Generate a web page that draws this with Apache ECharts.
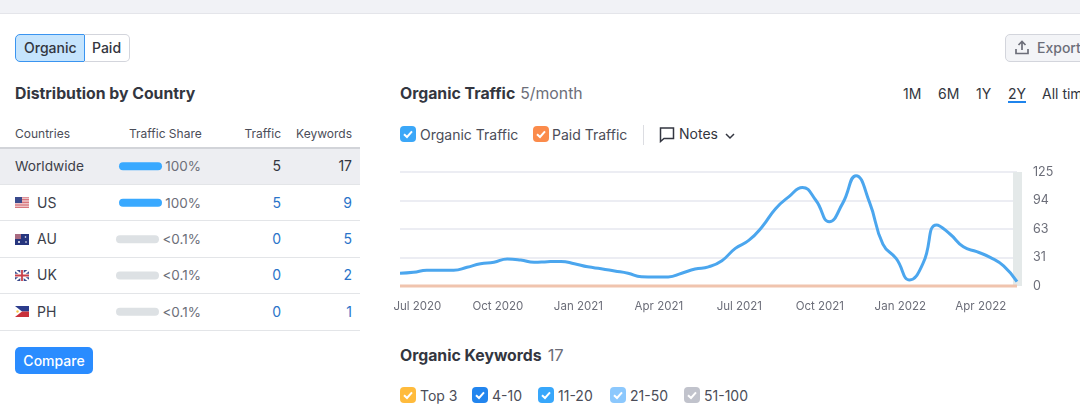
<!DOCTYPE html>
<html>
<head>
<meta charset="utf-8">
<script src="https://cdn.jsdelivr.net/npm/echarts@6/dist/echarts.min.js"></script>
<style>
html,body{margin:0;padding:0;background:#fff;}
body{width:1080px;height:414px;overflow:hidden;position:relative;font-family:Inter,"Noto Sans",sans-serif;color:#333640;}
.abs{position:absolute;white-space:nowrap;}
#chart{position:absolute;left:0;top:0;width:1080px;height:414px;z-index:5;}
.line{position:absolute;left:0;width:360px;height:1px;background:#e3e5e8;}
.box{position:absolute;width:16px;height:16px;border-radius:4px;}
.box svg{display:block;}
.flag{position:absolute;left:15px;width:14px;height:11px;}
</style>
</head>
<body>
<div class="abs" style="left:0;top:0;width:1080px;height:13px;background:#f1f2f6;border-bottom:1px solid #e4e5ea;"></div>

<div class="abs" style="left:15px;top:34px;width:68px;height:26px;background:#c5e4fd;border:1px solid #3a94f0;border-radius:5px 0 0 5px;"></div>
<div class="abs" style="left:84px;top:34px;width:45px;height:26px;border:1px solid #d3d5dc;border-left:0;border-radius:0 5px 5px 0;"></div>
<div class="abs" style="left:24px;top:39px;font-size:14px;font-weight:500;line-height:17px;">Organic</div>
<div class="abs" style="left:92px;top:39px;font-size:14px;font-weight:500;line-height:17px;">Paid</div>

<div class="abs" style="left:15px;top:84px;font-size:15.8px;font-weight:700;line-height:20px;">Distribution by Country</div>

<div class="abs" style="left:0;top:148px;width:360px;height:36px;background:#edeef2;"></div>
<div class="line" style="top:147px;height:1.5px;background:#d2d4d9;"></div>
<div class="line" style="top:184px;"></div>
<div class="line" style="top:220px;"></div>
<div class="line" style="top:257px;"></div>
<div class="line" style="top:293px;"></div>
<div class="line" style="top:330px;"></div>
<div id="table"></div>

<div class="abs" style="left:15px;top:347px;width:78px;height:27px;background:#2a8cff;border-radius:5px;color:#fff;font-size:14px;font-weight:500;line-height:27px;text-align:center;">Compare</div>

<div class="abs" style="left:400px;top:84px;font-size:15.8px;font-weight:700;line-height:20px;">Organic Traffic<span style="font-weight:400;color:#6c6e79;margin-left:5px;">5/month</span></div>

<div class="box" style="left:400px;top:126px;background:#3ba7f8;"><svg width="16" height="16"><path d="M4 8.2l3 2.8 5-5.6" fill="none" stroke="#fff" stroke-width="2"/></svg></div>
<div class="abs" style="left:420px;top:126px;font-size:14px;line-height:17px;color:#4b4d58;">Organic Traffic</div>
<div class="box" style="left:533px;top:126px;background:#fb8b4b;"><svg width="16" height="16"><path d="M4 8.2l3 2.8 5-5.6" fill="none" stroke="#fff" stroke-width="2"/></svg></div>
<div class="abs" style="left:552px;top:126px;font-size:14px;line-height:17px;color:#4b4d58;">Paid Traffic</div>
<div class="abs" style="left:643px;top:125px;width:1px;height:20px;background:#dcdde2;"></div>
<svg class="abs" style="left:659px;top:126px;" width="16" height="17"><path d="M1.5 2h13v10.5H5L1.5 15.5z" fill="none" stroke="#333640" stroke-width="1.5"/></svg>
<div class="abs" style="left:679px;top:125px;font-size:14px;line-height:17px;">Notes</div>
<svg class="abs" style="left:724px;top:132px;" width="12" height="8"><path d="M2 2l4 4 4-4" fill="none" stroke="#333640" stroke-width="1.5"/></svg>

<div class="abs" style="left:903px;top:85px;font-size:14px;line-height:17px;">1M</div>
<div class="abs" style="left:938px;top:85px;font-size:14px;line-height:17px;">6M</div>
<div class="abs" style="left:976px;top:85px;font-size:14px;line-height:17px;">1Y</div>
<div class="abs" style="left:1008px;top:85px;font-size:14px;line-height:17px;">2Y</div>
<div class="abs" style="left:1008px;top:101px;width:18px;height:2px;background:#1f84ec;"></div>
<div class="abs" style="left:1042px;top:85px;font-size:14px;line-height:17px;">All time</div>

<div class="abs" style="left:1005px;top:34px;width:90px;height:26px;background:#f3f4f7;border:1px solid #d3d5dc;border-radius:5px;"></div>
<svg class="abs" style="left:1014px;top:39px;" width="16" height="17"><path d="M8 11V3M4.5 6L8 2.5 11.5 6M2 10v4.5h12V10" fill="none" stroke="#6c6e79" stroke-width="1.7"/></svg>
<div class="abs" style="left:1037px;top:39px;font-size:14px;font-weight:500;line-height:17px;color:#6c6e79;">Export</div>

<div class="abs" style="left:400px;top:345px;font-size:15.8px;font-weight:700;line-height:20px;">Organic Keywords<span style="font-weight:400;color:#6c6e79;margin-left:6px;font-size:16.5px;">17</span></div>
<div id="kwLegend"></div>

<div id="chart"></div>

<script>
var countries = ["Worldwide","US","AU","UK","PH"];
var shareLabels = ["100%","100%","<0.1%","<0.1%","<0.1%"];
var shareBars = [100,100,0.1,0.1,0.1];
var traffic = [5,5,0,0,0];
var keywords = [17,9,5,2,1];

var kwNames = ["Top 3","4-10","11-20","21-50","51-100"];
var kwColors = ["#ffbb3c","#2285ee","#38a7fb","#8cc8fd","#c1c3cc"];

var months = ["Jun 16 2020","Jul 2020","Jul 16 2020","Aug 2020","Aug 16 2020","Sep 2020","Sep 16 2020","Oct 2020","Oct 16 2020","Nov 2020","Nov 16 2020","Dec 2020",
 "Dec 16 2020","Jan 2021","Jan 16 2021","Feb 2021","Feb 16 2021","Mar 2021","Mar 16 2021","Apr 2021","Apr 16 2021","May 2021","May 16 2021","Jun 2021",
 "Jun 16 2021","Jul 2021","Jul 16 2021","Aug 2021","Aug 16 2021","Sep 2021","Sep 16 2021","Oct 2021","Oct 16 2021","Nov 2021","Nov 16 2021","Dec 2021",
 "Dec 16 2021","Jan 2022","Jan 16 2022","Feb 2022","Feb 16 2022","Mar 2022","Mar 16 2022","Apr 2022","Apr 16 2022","May 2022","May 16 2022"];
var organicTraffic = [13.9,15,17.2,17.2,17.2,20.5,24.5,26,29.6,28.5,26,26.7,
 27,24.5,21,19,16.5,14,10.2,10,10,14,18.6,21,
 27.8,41.3,50,65,84.8,98,108,94,70.5,90.6,121,92,
 46,30,6.6,25,67,57,43,37.6,31.4,22,4.8];
var paidTraffic = [0,0,0,0,0,0,0,0,0,0,0,0,0,0,0,0,0,0,0,0,0,0,0,0,0,0,0,0,0,0,0,0,0,0,0,0,0,0,0,0,0,0,0,0,0,0,0];

var flags = {
 US:'<rect width="14" height="11" fill="#fff"/><path d="M0 .8h14M0 2.4h14M0 4h14M0 5.6h14M0 7.2h14M0 8.8h14M0 10.4h14" stroke="#c8404a" stroke-width=".8"/><rect width="7" height="6" fill="#3a4a8c"/>',
 AU:'<rect width="14" height="11" fill="#26357e"/><rect width="6" height="5" fill="#a86a80"/><circle cx="10.5" cy="3" r=".8" fill="#fff"/><circle cx="11" cy="8" r=".8" fill="#fff"/><circle cx="4" cy="8" r="1" fill="#fff"/>',
 UK:'<rect width="14" height="11" fill="#3a4a8c"/><path d="M0 0l14 11M14 0L0 11" stroke="#fff" stroke-width="2"/><path d="M7 0v11M0 5.5h14" stroke="#fff" stroke-width="3.4"/><path d="M7 0v11M0 5.5h14" stroke="#c8404a" stroke-width="1.8"/>',
 PH:'<rect width="14" height="5.5" fill="#2c3c8c"/><rect y="5.5" width="14" height="5.5" fill="#c8303a"/><path d="M0 0l7 5.5L0 11z" fill="#fff"/><circle cx="2.5" cy="5.5" r="1.2" fill="#f5c84a"/>'
};

var html = "";
function cell(css, txt){ html += '<div class="abs" style="'+css+'">'+txt+'</div>'; }
var hd = "top:126px;font-size:12px;line-height:15px;color:#4b4d58;";
cell("left:15px;"+hd,"Countries");
cell("left:129px;"+hd,"Traffic Share");
cell("left:221px;width:60px;text-align:right;"+hd,"Traffic");
cell("left:292px;width:60px;text-align:right;"+hd,"Keywords");
var rowMid = [166,202.5,239,275,311.5];
countries.forEach(function(c,i){
 var y = rowMid[i]-9;
 var base = "top:"+y+"px;line-height:18px;font-size:14px;";
 var isTop = i==0;
 cell((isTop?"left:15px;":"left:37px;")+base+"color:#3c3e49;"+(isTop?"font-size:13.7px;":""),c);
 if(flags[c]){
  html += '<svg class="flag" style="top:'+(rowMid[i]-5.5)+'px" viewBox="0 0 14 11">'+flags[c]+'</svg>';
 }
 cell("left:141px;width:60px;text-align:right;"+base+"color:#6c6e79;font-size:13.5px;",shareLabels[i].replace("<","&lt;"));
 cell("left:221px;width:60px;text-align:right;"+base+(isTop?"":"color:#2a74c9;"),traffic[i]);
 cell("left:292px;width:60px;text-align:right;"+base+(isTop?"":"color:#2a74c9;"),keywords[i]);
});
document.getElementById("table").innerHTML = html;

var boxX = [400,472,538,610,684];
var lg = "";
kwNames.forEach(function(n,i){
 lg += '<div class="box" style="left:'+boxX[i]+'px;top:387px;background:'+kwColors[i]+';"><svg width="16" height="16"><path d="M4 8.2l3 2.8 5-5.6" fill="none" stroke="#fff" stroke-width="2"/></svg></div>';
 lg += '<div class="abs" style="left:'+(boxX[i]+20)+'px;top:387px;font-size:14px;line-height:17px;color:#4b4d58;">'+n+'</div>';
});
document.getElementById("kwLegend").innerHTML = lg;

var chart = echarts.init(document.getElementById("chart"));
var grey = {type:"value",show:false,min:0,max:100};
var option = {
 animation:false,
 textStyle:{fontFamily:"Inter"},
 grid:[
  {left:400,right:63,top:172,bottom:128},
  {left:119,width:43,top:148,height:73},
  {left:116,width:43,top:221,height:109}
 ],
 xAxis:[
  {type:"category",gridIndex:0,data:months,boundaryGap:false,
   axisLine:{show:false},axisTick:{show:false},splitLine:{show:false},
   axisLabel:{color:"#6c6e79",fontSize:11.5,margin:15,hideOverlap:false,padding:[0,0,0,8],
    interval:function(i){ return i%6==1; }}},
  Object.assign({gridIndex:1},grey),
  Object.assign({gridIndex:2},grey)
 ],
 yAxis:[
  {type:"value",gridIndex:0,position:"right",min:0,max:125,interval:31.25,
   axisLine:{show:false},axisTick:{show:false},
   splitLine:{lineStyle:{color:"#e6e7ef",width:1.5}},
   axisLabel:{color:"#6c6e79",fontSize:12.5,margin:16,formatter:function(v){ return Math.round(v); }}},
  {type:"category",gridIndex:1,show:false,inverse:true,data:countries.slice(0,2)},
  {type:"category",gridIndex:2,show:false,inverse:true,data:countries.slice(2)}
 ],
 series:[
  {type:"line",name:"Paid Traffic",xAxisIndex:0,yAxisIndex:0,data:paidTraffic,showSymbol:false,clip:false,
   lineStyle:{color:"#f0c4ae",width:3},z:2},
  {type:"line",name:"Organic Traffic",xAxisIndex:0,yAxisIndex:0,data:organicTraffic,showSymbol:false,smooth:0.5,clip:false,
   lineStyle:{color:"#4ba6ee",width:3},z:3},
  {type:"bar",xAxisIndex:1,yAxisIndex:1,data:shareBars.slice(0,2),barWidth:8,
   itemStyle:{color:"#39a9ff",borderRadius:4}},
  {type:"bar",xAxisIndex:2,yAxisIndex:2,data:shareBars.slice(2),barWidth:8,showBackground:true,
   backgroundStyle:{color:"#dde1e4",borderRadius:4},itemStyle:{color:"#dde1e4",borderRadius:4}}
 ],
 graphic:[
  {type:"rect",shape:{x:1013,y:172,width:9,height:114},style:{fill:"#e4e9e9"},z:1}
 ]
};
chart.setOption(option);
</script>
</body>
</html>
